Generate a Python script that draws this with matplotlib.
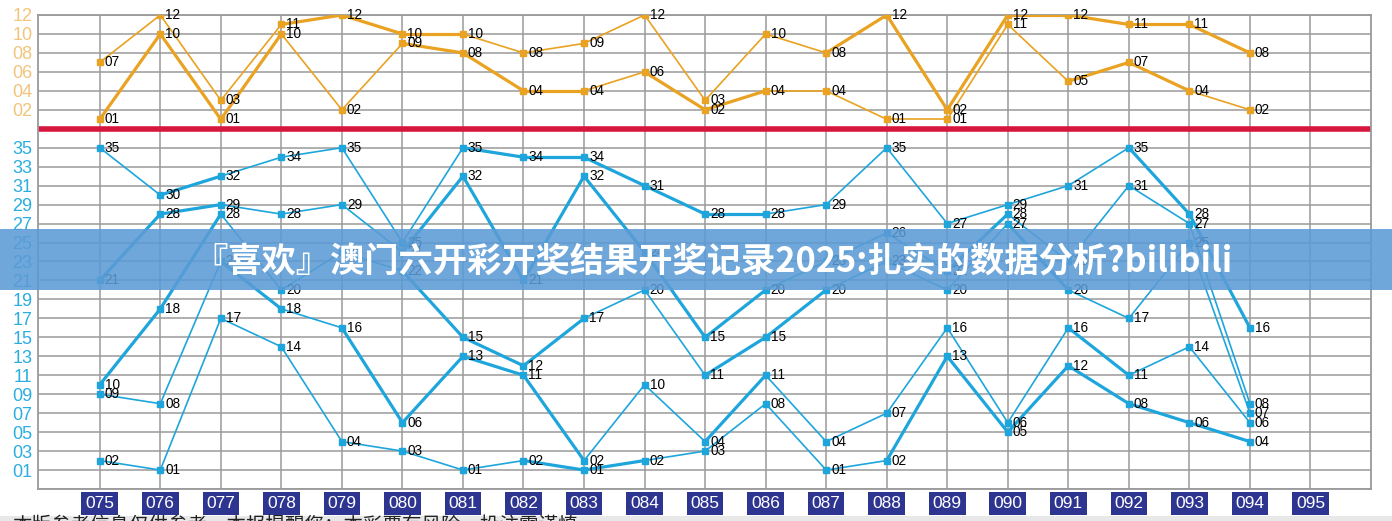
import numpy as np
import matplotlib
matplotlib.use('Agg')
import matplotlib.pyplot as plt
from matplotlib.patches import Rectangle

plt.rcParams['font.family'] = ['Liberation Sans', 'DejaVu Sans']

# draw numbers (issues 075 - 095, data up to 094)
issues = ['075', '076', '077', '078', '079', '080', '081', '082', '083', '084',
          '085', '086', '087', '088', '089', '090', '091', '092', '093', '094', '095']

# front zone, sorted position 1..5 (1-35)
ball1 = [2, 1, 17, 14, 4, 3, 1, 2, 1, 2, 3, 8, 1, 2, 13, 5, 12, 8, 6, 4]
ball2 = [9, 8, 23, 18, 16, 6, 13, 11, 2, 10, 4, 11, 4, 7, 16, 6, 16, 11, 14, 6]
ball3 = [10, 18, 28, 20, 24, 22, 15, 12, 17, 20, 11, 15, 20, 23, 20, 27, 20, 17, 25, 7]
ball4 = [21, 28, 29, 28, 29, 24, 32, 21, 32, 24, 15, 20, 23, 26, 22, 28, 23, 31, 27, 8]
ball5 = [35, 30, 32, 34, 35, 25, 35, 34, 34, 31, 28, 28, 29, 35, 27, 29, 31, 35, 28, 16]

# back zone, sorted position 1..2 (1-12)
back1 = [1, 10, 1, 10, 2, 9, 8, 4, 4, 6, 2, 4, 4, 1, 1, 11, 5, 7, 4, 2]
back2 = [7, 12, 3, 11, 12, 10, 10, 8, 9, 12, 3, 10, 8, 12, 2, 12, 12, 11, 11, 8]

# thick / thin segments
thick_b1 = [0, 0, 0, 0, 0, 0, 0, 1, 1, 0, 0, 0, 0, 1, 1, 1, 1, 1, 1]
thick_b2 = [0, 0, 1, 0, 1, 1, 1, 1, 0, 0, 1, 0, 0, 0, 0, 0, 1, 0, 0]
thick_b3 = [1, 1, 0, 0, 0, 1, 1, 1, 0, 0, 1, 1, 0, 0, 0, 1, 0, 0, 0]
thick_b4 = [1, 1, 0, 0, 0, 1, 1, 1, 1, 1, 1, 0, 0, 0, 1, 0, 0, 0, 0]
thick_b5 = [0, 1, 0, 0, 0, 0, 1, 1, 1, 1, 1, 0, 0, 0, 0, 0, 0, 1, 1]
thick_k1 = [1, 1, 1, 0, 0, 1, 1, 1, 0, 1, 1, 0, 0, 0, 0, 0, 1, 1, 0]
thick_k2 = [0, 0, 0, 1, 1, 1, 0, 0, 0, 0, 0, 0, 1, 1, 1, 1, 1, 1, 1]

blue = '#1ea6dc'
orange = '#e9a221'
off = 37  # back zone sits above the red line

fig = plt.figure(figsize=(13.92, 5.21), dpi=100)
ax = fig.add_axes([38/1392, 32/521, (1371-38)/1392, (489-15)/521])

def draw_series(vals, thick, color, shift=0):
    x = np.arange(len(vals))
    y = np.array(vals) + shift
    for i in range(len(vals)-1):
        lw = 2.3 if thick[i] else 1.2
        ax.plot(x[i:i+2], y[i:i+2], color=color, lw=lw, solid_capstyle='round', zorder=3)
    ax.plot(x, y, ls='none', marker='s', ms=4.8, color=color, zorder=4)
    for xi, yi, v in zip(x, y, vals):
        ax.annotate('%02d' % v, (xi, yi), xytext=(5, 0), textcoords='offset pixels',
                    va='center', ha='left', fontsize=9.8, color='black', zorder=5)

for vals, th in zip([ball1, ball2, ball3, ball4, ball5],
                    [thick_b1, thick_b2, thick_b3, thick_b4, thick_b5]):
    draw_series(vals, th, blue)
for vals, th in zip([back1, back2], [thick_k1, thick_k2]):
    draw_series(vals, th, orange, off)

ax.axhline(off, color='#d6163d', lw=4, zorder=2)

ax.set_xlim(-1.02, 21)
ax.set_ylim(-1, 49)
ax.set_xticks(np.arange(0, 21))
ax.set_xticklabels([])
yt = list(range(-1, 50, 2))
ylab = []
for v in yt:
    if 0 < v < off:
        ylab.append('%02d' % v)
    elif v > off:
        ylab.append('%02d' % (v - off))
    else:
        ylab.append('')
ax.set_yticks(yt)
ax.set_yticklabels(ylab, fontsize=13)
for v, t in zip(yt, ax.get_yticklabels()):
    t.set_color('#f2c47c' if v > off else '#2aaee0')
ax.tick_params(length=0, pad=4)
ax.grid(True, color='#9a9a9a', lw=1.1, zorder=1)
for s in ax.spines.values():
    s.set_color('#9a9a9a')
    s.set_linewidth(1.3)

# issue boxes
for i, lab in enumerate(issues):
    ax.text(i, -1.75, lab, ha='center', va='top', fontsize=12.5, color='white',
            bbox=dict(boxstyle='square,pad=0.22', fc='#2e3590', ec='none'),
            clip_on=False)

# bottom strip with cut text
fig.patches.append(Rectangle((0, 0), 1, 5/521, transform=fig.transFigure,
                             fc='#e8e8e8', ec='none', zorder=0))
fig.text(12/1392, 6/521, '本版参考信息仅供参考，本报提醒您：本彩票有风险，投注需谨慎',
         ha='left', va='top', fontsize=14, color='#222222',
         family=['Noto Sans CJK SC', 'DejaVu Sans'])

# banner
fig.patches.append(Rectangle((0, (521-290)/521), 1, 61/521, transform=fig.transFigure,
                             fc='#5b9bd5', ec='none', alpha=0.88, zorder=10))
fig.text(713/1392, (521-262)/521, '『喜欢』澳门六开彩开奖结果开奖记录2025:扎实的数据分析?bilibili',
         ha='center', va='center', fontsize=24.7, weight='heavy', color='white',
         family=['Noto Sans CJK SC', 'DejaVu Sans'], zorder=11)

fig.savefig('out.png', dpi=100)
